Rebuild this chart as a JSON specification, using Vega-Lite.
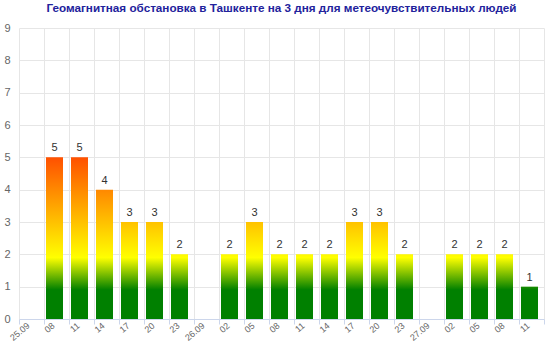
{
  "$schema": "https://vega.github.io/schema/vega-lite/v6.json",
  "width": 525,
  "height": 291,
  "autosize": {"type": "none"},
  "padding": {"left": 19, "top": 28, "right": 16, "bottom": 23},
  "background": "white",
  "title": {
    "text": "Геомагнитная обстановка в Ташкенте на 3 дня для метеочувствительных людей",
    "font": "Liberation Sans",
    "fontSize": 11.7,
    "fontWeight": "bold",
    "color": "#22229c",
    "anchor": "middle",
    "frame": "group",
    "offset": 7
  },
  "config": {
    "view": {"stroke": null},
    "font": "Liberation Sans"
  },
  "data": {
    "values": [
      {"slot": "a 25.09", "v": 0},
      {"slot": "a 08", "v": 5},
      {"slot": "a 11", "v": 5},
      {"slot": "a 14", "v": 4},
      {"slot": "a 17", "v": 3},
      {"slot": "a 20", "v": 3},
      {"slot": "a 23", "v": 2},
      {"slot": "b 26.09", "v": 0},
      {"slot": "b 02", "v": 2},
      {"slot": "b 05", "v": 3},
      {"slot": "b 08", "v": 2},
      {"slot": "b 11", "v": 2},
      {"slot": "b 14", "v": 2},
      {"slot": "b 17", "v": 3},
      {"slot": "b 20", "v": 3},
      {"slot": "b 23", "v": 2},
      {"slot": "c 27.09", "v": 0},
      {"slot": "c 02", "v": 2},
      {"slot": "c 05", "v": 2},
      {"slot": "c 08", "v": 2},
      {"slot": "c 11", "v": 1}
    ]
  },
  "encoding": {
    "x": {
      "field": "slot",
      "type": "nominal",
      "sort": null,
      "scale": {"paddingInner": 0, "paddingOuter": 0},
      "axis": {
        "title": null,
        "labelExpr": "slice(datum.label, 2)",
        "labelAngle": -40,
        "labelAlign": "right",
        "labelBaseline": "middle",
        "labelOffset": -3.5,
        "labelFont": "Liberation Sans",
        "labelFontSize": 9,
        "labelColor": "#666666",
        "labelPadding": 0,
        "tickBand": "extent",
        "tickSize": 5,
        "tickColor": "#ccd6eb",
        "domainColor": "#ccd6eb",
        "grid": true,
        "gridColor": "#e6e6e6"
      }
    },
    "y": {
      "field": "v",
      "type": "quantitative",
      "scale": {"domain": [0, 9], "nice": false},
      "axis": {
        "title": null,
        "values": [0, 1, 2, 3, 4, 5, 6, 7, 8, 9],
        "ticks": false,
        "domain": false,
        "labelFont": "Liberation Sans",
        "labelFontSize": 11,
        "labelColor": "#666666",
        "labelPadding": 9,
        "gridColor": "#e6e6e6"
      }
    }
  },
  "layer": [
    {
      "mark": {"type": "bar", "width": {"band": 0.68}, "xOffset": -2},
      "encoding": {
        "fill": {
          "condition": [
            {"test": "datum.v == 5", "value": {"gradient": "linear", "x1": 0, "y1": 1, "x2": 0, "y2": 0, "stops": [{"offset": 0, "color": "#008000"}, {"offset": 0.18, "color": "#008000"}, {"offset": 0.38, "color": "#ffff00"}, {"offset": 1, "color": "#ff5000"}]}},
            {"test": "datum.v == 4", "value": {"gradient": "linear", "x1": 0, "y1": 1, "x2": 0, "y2": 0, "stops": [{"offset": 0, "color": "#008000"}, {"offset": 0.225, "color": "#008000"}, {"offset": 0.475, "color": "#ffff00"}, {"offset": 1, "color": "#ff8800"}]}},
            {"test": "datum.v == 3", "value": {"gradient": "linear", "x1": 0, "y1": 1, "x2": 0, "y2": 0, "stops": [{"offset": 0, "color": "#008000"}, {"offset": 0.3, "color": "#008000"}, {"offset": 0.633, "color": "#ffff00"}, {"offset": 1, "color": "#ffc200"}]}},
            {"test": "datum.v == 2", "value": {"gradient": "linear", "x1": 0, "y1": 1, "x2": 0, "y2": 0, "stops": [{"offset": 0, "color": "#008000"}, {"offset": 0.45, "color": "#008000"}, {"offset": 0.95, "color": "#ffff00"}, {"offset": 1, "color": "#fff900"}]}}
          ],
          "value": {"gradient": "linear", "x1": 0, "y1": 1, "x2": 0, "y2": 0, "stops": [{"offset": 0, "color": "#008000"}, {"offset": 0.9, "color": "#008000"}, {"offset": 1, "color": "#1a8c00"}]}
        }
      }
    },
    {
      "transform": [{"filter": "datum.v > 0"}],
      "mark": {"type": "text", "baseline": "bottom", "dy": -4, "dx": -2, "fontSize": 11, "color": "#333333", "font": "Liberation Sans"},
      "encoding": {"text": {"field": "v", "type": "quantitative"}}
    }
  ]
}
